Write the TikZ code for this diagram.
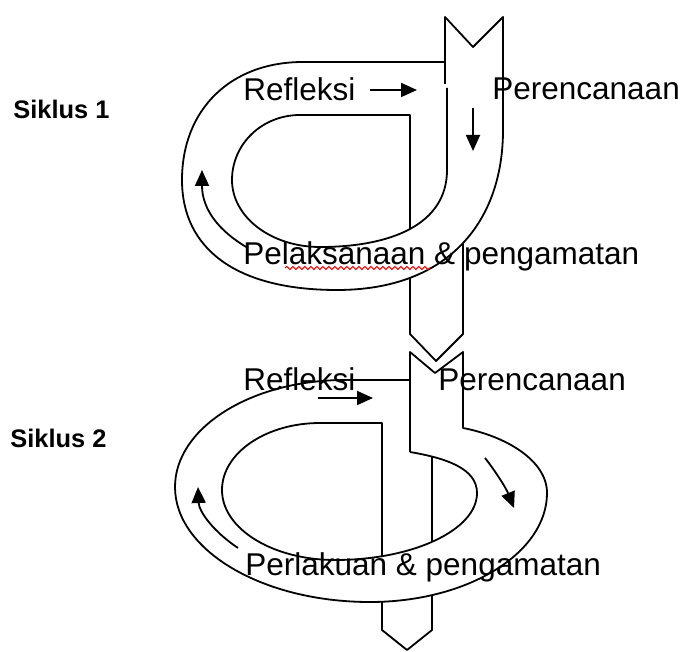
\documentclass[tikz,border=0pt]{standalone}
\usepackage{fontspec}
\setmainfont{Liberation Sans}
\usetikzlibrary{arrows.meta,decorations.pathmorphing}
\begin{document}
\begin{tikzpicture}[x=0.5pt,y=-0.5pt,
  ln/.style={line width=0.9pt, line join=round},
  arr/.style={line width=0.9pt,-{Triangle[length=8pt,width=7pt]}},
  lbl/.style={anchor=base west, inner sep=0pt, font=\fontsize{15.75}{18}\selectfont},
  cyc/.style={anchor=base west, inner sep=0pt, font=\fontsize{12.7}{15}\selectfont\bfseries},
  squig/.style={red, line width=0.5pt, decorate, decoration={snake, amplitude=0.8pt, segment length=3pt}}]
\useasboundingbox (0,0) rectangle (683,651);

% ---------- Siklus 1 ----------
\draw[ln] (445,84) -- (445,17) -- (473,47) -- (503,17) -- (503,130)
  .. controls (503,220) and (450,290) .. (337,290)
  .. controls (235,290) and (182,248) .. (182,180)
  .. controls (182,110) and (230,62) .. (303,62) -- (445,62);
\draw[ln] (447,88) -- (447,170)
  .. controls (447,225) and (390,247) .. (320,247)
  .. controls (271,247) and (232,217) .. (232,180)
  .. controls (232,144) and (262,115) .. (300,115) -- (410,115) -- (410,229);
\draw[ln] (410,278) -- (410,334) -- (436,361) -- (463,334) -- (463,244);

\draw[arr] (370,90) -- (417,90);
\draw[arr] (473,108) -- (473,151);
\draw[arr] (248,248) .. controls (220,232) and (202,210) .. (202,170);

\node[cyc] (s1) at (13,119) {Siklus 1};
\node[lbl] (r1) at (243,101) {Refleksi};
\node[lbl] (p1) at (492,100) {Perencanaan};
\node[lbl] (l1) at (243,265) {Pelaksanaan \& pengamatan};
\draw[squig] (285,268) -- (430,268);

% ---------- Siklus 2 ----------
\draw[ln] (410,452) -- (410,352) -- (435,373) -- (463,352) -- (463,428)
  .. controls (505,436) and (547,460) .. (547,493)
  .. controls (547,553) and (468,602) .. (370,602)
  .. controls (262,602) and (175,550) .. (175,487)
  .. controls (175,428) and (251,380) .. (345,380) -- (410,380);
\draw[ln] (410,452) .. controls (445,458) and (477,468) .. (477,493)
  .. controls (477,530) and (413,560) .. (335,560)
  .. controls (273,560) and (222,529) .. (222,490)
  .. controls (222,453) and (266,423) .. (320,423) -- (382,423) -- (382,556);
\draw[ln] (432,456.5) -- (432,542);
\draw[ln] (382,602) -- (382,630) -- (407,650) -- (432,630) -- (432,595);

\draw[arr] (318,398) -- (373,398);
\draw[arr] (485,458) .. controls (496,472) and (506,488) .. (514,508);
\draw[arr] (238,548) .. controls (214,532) and (199,512) .. (198,487);

\node[cyc] (s2) at (10,447) {Siklus 2};
\node[lbl] (r2) at (243,390) {Refleksi};
\node[lbl] (p2) at (438,390) {Perencanaan};
\node[lbl] (l2) at (245,575) {Perlakuan \& pengamatan};
\end{tikzpicture}
\end{document}
